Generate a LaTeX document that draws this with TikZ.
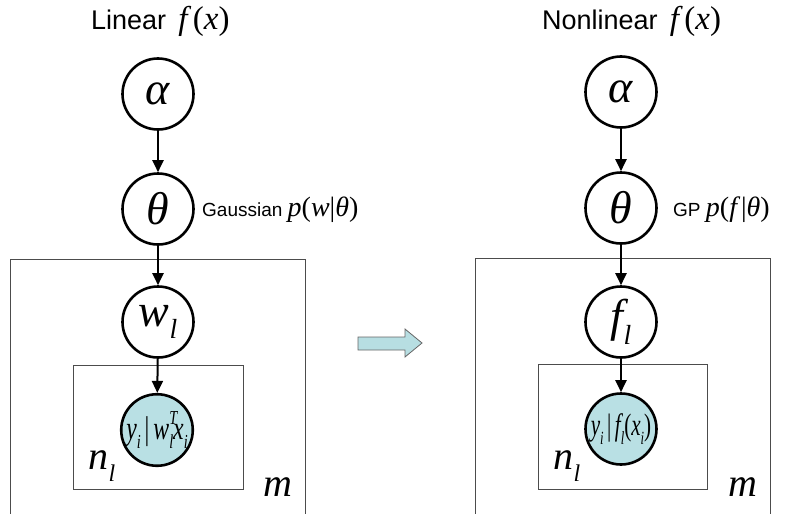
\documentclass[tikz,border=0pt]{standalone}
\usepackage{fontspec}
\setmainfont{Liberation Sans}
\newfontfamily\tms{Liberation Serif}
\usetikzlibrary{arrows.meta}
\definecolor{obs}{HTML}{B9E0E4}
\definecolor{arrowfill}{HTML}{B7DEE2}
\newcommand{\mi}[1]{{\tms\itshape #1}}
\newcommand{\mr}[1]{{\tms #1}}
\newcommand{\sbs}[1]{\raisebox{-0.28em}{\scalebox{0.6}{#1}}}
\newcommand{\sps}[1]{\raisebox{0.45em}{\scalebox{0.6}{#1}}}
\tikzset{
  latent/.style={circle,draw=black,line width=2.6pt,minimum size=71pt,inner sep=0pt,fill=white},
  observed/.style={latent,fill=obs},
  edge/.style={line width=2pt,-{Triangle[length=12pt,width=11pt]}},
  plate/.style={draw=black!70,line width=0.8pt},
  title/.style={font=\fontsize{27}{30}\selectfont,anchor=base west,inner sep=0pt},
  note/.style={font=\fontsize{19}{20}\selectfont,anchor=base west,inner sep=0pt},
  big/.style={font=\fontsize{46}{46}\selectfont},
  platelabel/.style={font=\fontsize{40}{40}\selectfont,inner sep=0pt}
}
\begin{document}
\begin{tikzpicture}[x=1pt,y=-1pt]
\useasboundingbox (0,0) rectangle (793,514);
% plates
\draw[plate] (10,520) -- (10,259) -- (305,259) -- (305,520);
\draw[plate] (73,365) rectangle (243,489);
\draw[plate] (475,520) -- (475,258) -- (770,258) -- (770,520);
\draw[plate] (538,364) rectangle (707,489);
% titles
\node[title] (t1) at (91,30) {Linear\hspace{12pt}{\fontsize{33}{33}\selectfont\mi{f}\,\mr{(}\mi{x}\mr{)}}};
\node[title] (t2) at (542,30) {Nonlinear\hspace{12pt}{\fontsize{33}{33}\selectfont\mi{f}\,\mr{(}\mi{x}\mr{)}}};
% left column
\node[latent,big] (a1) at (158,94) {\mi{α}};
\node[latent,big] (th1) at (158,209) {\mi{θ}};
\node[latent,big] (w1) at (158,322) {\mi{w}\sbs{\mi{l}}};
\node[observed,font=\fontsize{33}{33}\selectfont] (y1) at (157,430) {\scalebox{0.72}[1]{\mi{y}\sbs{\mi{i}}\,\mr{|}\,\mi{w}\rlap{\sps{\mi{T}}}\sbs{\mi{l}}\mi{x}\sbs{\mi{i}}}};
\node[note] (g1) at (202,216) {Gaussian {\fontsize{28}{28}\selectfont\mi{p}\mr{(}\mi{w}\mr{|}\mi{θ}\mr{)}}};
\node[platelabel] (n1) at (102,466) {\mi{n}\sbs{\mi{l}}};
\node[platelabel] (m1) at (278,487) {\mi{m}};
\draw[edge] (a1) -- (th1);
\draw[edge] (th1) -- (w1);
\draw[edge] (w1) -- (y1);
% right column
\node[latent,big] (a2) at (621,92) {\mi{α}};
\node[latent,big] (th2) at (621,208) {\mi{θ}};
\node[latent,big] (f2) at (621,322) {\mi{f}\sbs{\mi{l}}};
\node[observed,font=\fontsize{31}{31}\selectfont] (y2) at (621,429) {\scalebox{0.68}[1]{\mi{y}\sbs{\mi{i}}\,\mr{|}\,\mi{f}\sbs{\mi{l}}\mr{(}\mi{x}\sbs{\mi{i}}\mr{)}}};
\node[note] (g2) at (673,216) {GP {\fontsize{28}{28}\selectfont\mi{p}\mr{(}\mi{f}\hspace{4pt}\mr{|}\mi{θ}\mr{)}}};
\node[platelabel] (n2) at (567,466) {\mi{n}\sbs{\mi{l}}};
\node[platelabel] (m2) at (743,487) {\mi{m}};
\draw[edge] (a2) -- (th2);
\draw[edge] (th2) -- (f2);
\draw[edge] (f2) -- (y2);
% transition arrow
\draw[draw=black!60,fill=arrowfill,line width=0.8pt]
  (358,337) -- (405,337) -- (405,329) -- (422,343) -- (405,357) -- (405,350) -- (358,350) -- cycle;
\end{tikzpicture}
\end{document}
